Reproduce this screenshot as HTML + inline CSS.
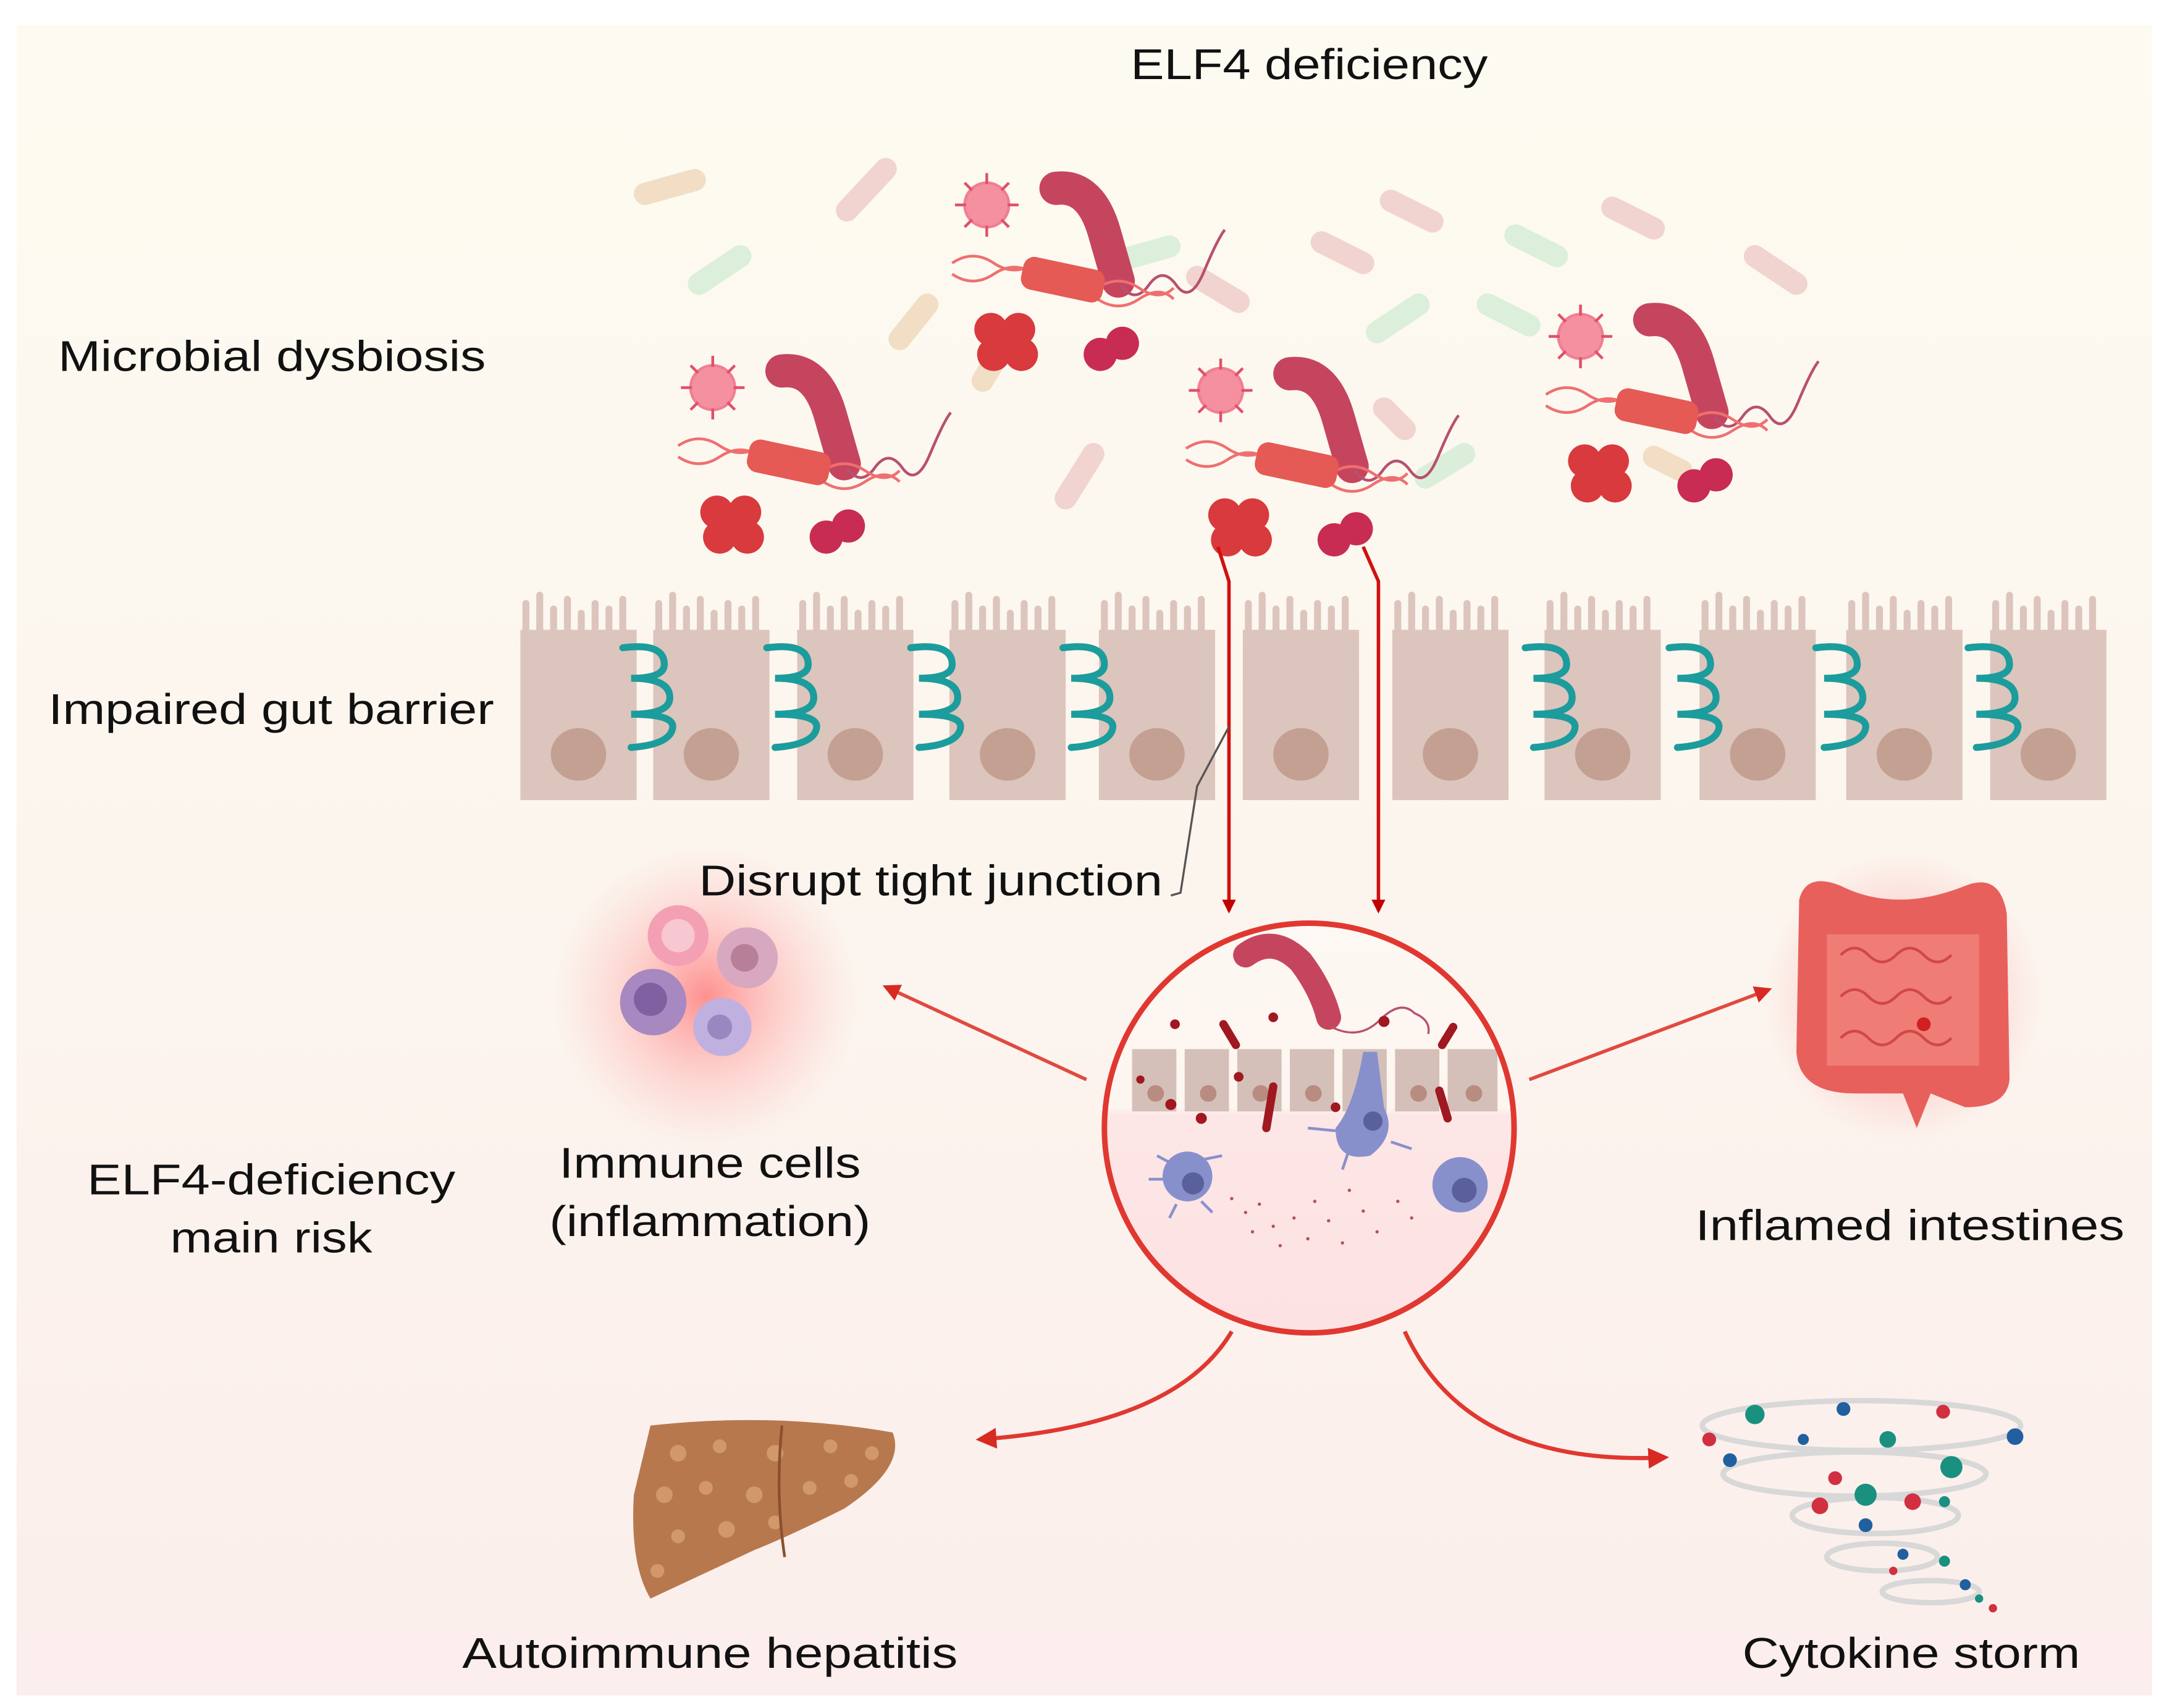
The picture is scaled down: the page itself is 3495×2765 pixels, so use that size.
<!DOCTYPE html>
<html><head><meta charset="utf-8"><style>
html,body{margin:0;padding:0;background:#fff;}
svg{display:block;}
text{font-family:"Liberation Sans",sans-serif;fill:#111;}
</style></head><body>
<svg width="3495" height="2765" viewBox="0 0 1560 1234" xmlns="http://www.w3.org/2000/svg">
<defs>
<linearGradient id="bg" x1="0" y1="0" x2="0" y2="1">
<stop offset="0" stop-color="#fdfbf1"/><stop offset="0.5" stop-color="#fcf5ee"/><stop offset="1" stop-color="#fbeeec"/>
</linearGradient>
<linearGradient id="circ" x1="0" y1="0" x2="0" y2="1">
<stop offset="0" stop-color="#fdf8f3"/><stop offset="0.45" stop-color="#fdf5f0"/><stop offset="0.47" stop-color="#fde6e6"/><stop offset="1" stop-color="#fde2e3"/>
</linearGradient>
<radialGradient id="glow"><stop offset="0" stop-color="#ff7070" stop-opacity="0.75"/><stop offset="0.5" stop-color="#ff9090" stop-opacity="0.35"/><stop offset="1" stop-color="#ffb0b0" stop-opacity="0"/></radialGradient>
<radialGradient id="glow2"><stop offset="0" stop-color="#ff6060" stop-opacity="0.5"/><stop offset="1" stop-color="#ff8080" stop-opacity="0"/></radialGradient>
<marker id="ah" viewBox="0 0 10 10" refX="8" refY="5" markerWidth="5" markerHeight="5" orient="auto"><path d="M0,0 L10,5 L0,10 z" fill="#d62a22"/></marker>
<marker id="ahd" viewBox="0 0 10 10" refX="8" refY="5" markerWidth="4" markerHeight="4" orient="auto"><path d="M0,0 L10,5 L0,10 z" fill="#c00000"/></marker>
<g id="mic">
  <g fill="#f07f92"><circle cx="515" cy="280" r="17"/>
  <g stroke="#e0506a" stroke-width="2"><line x1="515" y1="257" x2="515" y2="303"/><line x1="492" y1="280" x2="538" y2="280"/><line x1="499" y1="264" x2="531" y2="296"/><line x1="531" y1="264" x2="499" y2="296"/></g>
  <circle cx="515" cy="280" r="15" fill="#f4909f"/></g>
  <path d="M565,268 Q590,265 600,300 L610,335" stroke="#c6455e" stroke-width="24" stroke-linecap="round" fill="none"/>
  <path d="M612,338 q10,14 20,0 t20,0 t20,-10 t15,-30" stroke="#b85070" stroke-width="2" fill="none"/>
  <path d="M490,322 q15,-10 30,0 t30,0 M490,330 q15,10 30,0 t30,0 M595,340 q15,-10 30,0 t25,0 M595,348 q15,10 30,0 t25,0" stroke="#ef6f70" stroke-width="2" fill="none"/>
  <rect x="540" y="322" width="60" height="24" rx="8" fill="#e55a55" transform="rotate(12 570 334)"/>
  <g fill="#d83a3e"><circle cx="518" cy="370" r="12"/><circle cx="538" cy="370" r="12"/><circle cx="520" cy="388" r="12"/><circle cx="540" cy="388" r="12"/><circle cx="529" cy="378" r="12"/></g>
  <g fill="#c82c52"><circle cx="597" cy="388" r="12"/><circle cx="613" cy="380" r="12"/></g>
</g>
</defs>
<rect x="0" y="0" width="1560" height="1234" fill="#fff"/>
<rect x="12" y="18" width="1543" height="1207" fill="url(#bg)"/>

<!-- faint pills -->
<g stroke-linecap="round" stroke-width="16" opacity="0.9">
<line x1="466" y1="140" x2="502" y2="130" stroke="#f0dcc0"/>
<line x1="612" y1="152" x2="640" y2="122" stroke="#f0d0cc"/>
<line x1="505" y1="205" x2="535" y2="185" stroke="#d8eed8"/>
<line x1="650" y1="245" x2="670" y2="220" stroke="#f0dcc0"/>
<line x1="710" y1="275" x2="722" y2="255" stroke="#f0dcc0"/>
<line x1="810" y1="188" x2="845" y2="178" stroke="#d8eed8"/>
<line x1="865" y1="200" x2="895" y2="218" stroke="#f0d0cc"/>
<line x1="955" y1="175" x2="985" y2="190" stroke="#f0d0cc"/>
<line x1="1005" y1="145" x2="1035" y2="160" stroke="#f0d0cc"/>
<line x1="995" y1="240" x2="1025" y2="220" stroke="#d8eed8"/>
<line x1="1075" y1="220" x2="1105" y2="235" stroke="#d8eed8"/>
<line x1="1095" y1="170" x2="1125" y2="185" stroke="#d8eed8"/>
<line x1="1165" y1="150" x2="1195" y2="165" stroke="#f0d0cc"/>
<line x1="1268" y1="185" x2="1298" y2="205" stroke="#f0d0cc"/>
<line x1="770" y1="360" x2="790" y2="328" stroke="#f0d0cc"/>
<line x1="1030" y1="345" x2="1058" y2="328" stroke="#d8eed8"/>
<line x1="1195" y1="330" x2="1215" y2="340" stroke="#f0dcc0"/>
<line x1="1000" y1="295" x2="1015" y2="310" stroke="#f0d0cc"/>
</g>
<use href="#mic"/>
<use href="#mic" transform="translate(198,-132)"/>
<use href="#mic" transform="translate(367,2)"/>
<use href="#mic" transform="translate(627,-37)"/>

<!-- cells -->
<g fill="#dcc5bd">
<g id="cell"><rect x="376" y="455" width="84" height="123"/>
<path d="M380,458 v-22 M390,458 v-28 M400,458 v-18 M410,458 v-25 M420,458 v-15 M430,458 v-22 M440,458 v-18 M450,458 v-25" stroke="#dcc5bd" stroke-width="5" stroke-linecap="round"/>
<ellipse cx="418" cy="545" rx="20" ry="19" fill="#c4a092"/></g>
<use href="#cell" transform="translate(96,0)"/>
<use href="#cell" transform="translate(200,0)"/>
<use href="#cell" transform="translate(310,0)"/>
<use href="#cell" transform="translate(418,0)"/>
<use href="#cell" transform="translate(522,0)"/>
<use href="#cell" transform="translate(630,0)"/>
<use href="#cell" transform="translate(740,0)"/>
<use href="#cell" transform="translate(852,0)"/>
<use href="#cell" transform="translate(958,0)"/>
<use href="#cell" transform="translate(1062,0)"/>
</g>
<g fill="none" stroke="#1c9c9c" stroke-width="5" stroke-linecap="round">
<path id="tj" d="M450,468 q30,-4 30,12 q0,10 -24,10 q28,0 28,14 q0,12 -28,12 q32,0 30,10 q-2,12 -30,14"/>
<use href="#tj" transform="translate(104,0)"/>
<use href="#tj" transform="translate(208,0)"/>
<use href="#tj" transform="translate(318,0)"/>
<use href="#tj" transform="translate(652,0)"/>
<use href="#tj" transform="translate(756,0)"/>
<use href="#tj" transform="translate(862,0)"/>
<use href="#tj" transform="translate(972,0)"/>
</g>

<!-- vertical arrows -->
<path d="M880,395 L888,420 V658" stroke="#d01010" stroke-width="2.5" fill="none" marker-end="url(#ahd)"/>
<path d="M985,395 L996,420 V658" stroke="#d01010" stroke-width="2.5" fill="none" marker-end="url(#ahd)"/>
<path d="M888,525 L865,568 L853,645 L846,647" stroke="#555" stroke-width="1.5" fill="none"/>

<!-- circle -->
<circle cx="946" cy="815" r="148" fill="url(#circ)"/>
<g fill="#d4c0b8"><rect x="818" y="758" width="32" height="45"/><rect x="856" y="758" width="32" height="45"/><rect x="894" y="758" width="32" height="45"/><rect x="932" y="758" width="32" height="45"/><rect x="970" y="758" width="32" height="45"/><rect x="1008" y="758" width="32" height="45"/><rect x="1046" y="758" width="36" height="45"/></g>
<g fill="#b88c80"><circle cx="835" cy="790" r="6"/><circle cx="873" cy="790" r="6"/><circle cx="911" cy="790" r="6"/><circle cx="949" cy="790" r="6"/><circle cx="987" cy="790" r="6"/><circle cx="1025" cy="790" r="6"/><circle cx="1065" cy="790" r="6"/></g>
<path d="M900,690 q20,-15 40,5 q15,20 20,40" stroke="#c6455e" stroke-width="18" stroke-linecap="round" fill="none"/>
<path d="M962,742 q20,10 35,-5 t25,-5 q12,5 10,15" stroke="#b85070" stroke-width="1.5" fill="none"/>
<g stroke="#a01820" stroke-width="6" stroke-linecap="round"><line x1="884" y1="740" x2="893" y2="755"/><line x1="1050" y1="742" x2="1042" y2="755"/><line x1="920" y1="785" x2="915" y2="815"/><line x1="1040" y1="788" x2="1046" y2="808"/></g>
<g fill="#a01820"><circle cx="849" cy="740" r="3.5"/><circle cx="920" cy="735" r="3.5"/><circle cx="1000" cy="738" r="4"/><circle cx="846" cy="798" r="4"/><circle cx="868" cy="808" r="4"/><circle cx="895" cy="778" r="3.5"/><circle cx="965" cy="800" r="3.5"/><circle cx="824" cy="780" r="3"/></g>
<g fill="#8890cc"><circle cx="858" cy="850" r="18"/><path d="M985,760 L995,760 L1000,800 Q1010,820 990,835 Q965,840 965,815 Q978,800 985,760z"/><circle cx="1055" cy="856" r="20"/></g>
<g stroke="#8890cc" stroke-width="2"><path d="M830,852 h20 M836,835 l15,8 M868,838 l15,-3 M850,870 l-5,10 M868,868 l8,8 M965,817 l-20,-2 M1005,825 l15,5 M975,830 l-5,15"/></g>
<g fill="#5a609c"><circle cx="862" cy="855" r="8"/><circle cx="1058" cy="860" r="9"/><circle cx="992" cy="810" r="7"/></g>
<g fill="#a03030" opacity="0.8"><circle cx="890" cy="866" r="1.2"/><circle cx="900" cy="876" r="1.2"/><circle cx="910" cy="870" r="1.2"/><circle cx="920" cy="886" r="1.2"/><circle cx="905" cy="890" r="1.2"/><circle cx="935" cy="880" r="1.2"/><circle cx="950" cy="868" r="1.2"/><circle cx="960" cy="882" r="1.2"/><circle cx="975" cy="860" r="1.2"/><circle cx="985" cy="875" r="1.2"/><circle cx="995" cy="890" r="1.2"/><circle cx="1010" cy="868" r="1.2"/><circle cx="1020" cy="880" r="1.2"/><circle cx="945" cy="895" r="1.2"/><circle cx="925" cy="900" r="1.2"/><circle cx="970" cy="898" r="1.2"/></g>
<circle cx="946" cy="815" r="148" fill="none" stroke="#e03830" stroke-width="4"/>

<!-- arrows out -->
<path d="M785,780 L640,713" stroke="#e04a40" stroke-width="2.5" fill="none" marker-end="url(#ah)"/>
<path d="M1105,780 L1278,715" stroke="#e04a40" stroke-width="2.5" fill="none" marker-end="url(#ah)"/>
<path d="M890,962 Q850,1030 708,1040" stroke="#e03830" stroke-width="3" fill="none" marker-end="url(#ah)"/>
<path d="M1015,962 Q1060,1060 1203,1053" stroke="#e03830" stroke-width="3" fill="none" marker-end="url(#ah)"/>

<!-- immune cells -->
<circle cx="510" cy="720" r="110" fill="url(#glow)"/>
<circle cx="490" cy="676" r="22" fill="#f4a0b4"/><circle cx="490" cy="676" r="12" fill="#f8c8d2"/>
<circle cx="540" cy="692" r="22" fill="#d8a8c0"/><circle cx="538" cy="692" r="10" fill="#b88098"/>
<circle cx="472" cy="724" r="24" fill="#a888c0"/><circle cx="470" cy="722" r="12" fill="#8060a0"/>
<circle cx="522" cy="742" r="21" fill="#c0b0e0"/><circle cx="520" cy="742" r="9" fill="#9888c0"/>

<!-- intestine -->
<ellipse cx="1375" cy="720" rx="100" ry="105" fill="url(#glow2)"/>
<path d="M1300,650 Q1305,630 1330,640 Q1370,660 1420,640 Q1445,630 1450,660 L1452,780 Q1450,800 1420,800 L1395,790 L1385,815 L1375,790 L1340,790 Q1300,790 1298,760 Z" fill="#e8605c"/>
<path d="M1320,675 h110 v95 h-110 z" fill="#f07c76"/>
<path d="M1330,690 q10,-10 20,0 t20,0 t20,0 t20,0 M1330,720 q10,-10 20,0 t20,0 t20,0 t20,0 M1330,750 q10,-10 20,0 t20,0 t20,0 t20,0" stroke="#d04848" stroke-width="2" fill="none"/>
<circle cx="1390" cy="740" r="5" fill="#d02020"/>

<!-- liver -->
<path d="M470,1030 Q560,1020 645,1035 Q655,1060 610,1090 Q570,1110 545,1120 L470,1155 Q455,1130 458,1080 Z" fill="#b8784e"/>
<g fill="#d8a070" opacity="0.8"><circle cx="490" cy="1050" r="6"/><circle cx="520" cy="1045" r="5"/><circle cx="560" cy="1050" r="6"/><circle cx="600" cy="1045" r="5"/><circle cx="630" cy="1050" r="5"/><circle cx="480" cy="1080" r="6"/><circle cx="510" cy="1075" r="5"/><circle cx="545" cy="1080" r="6"/><circle cx="585" cy="1075" r="5"/><circle cx="615" cy="1070" r="5"/><circle cx="490" cy="1110" r="5"/><circle cx="525" cy="1105" r="6"/><circle cx="475" cy="1135" r="5"/><circle cx="560" cy="1100" r="5"/></g>
<path d="M565,1030 Q560,1080 567,1125" stroke="#8a5030" stroke-width="2" fill="none"/>

<!-- tornado -->
<g fill="none" stroke="#d8d8d8" stroke-width="4">
<ellipse cx="1345" cy="1030" rx="115" ry="18"/><ellipse cx="1340" cy="1065" rx="95" ry="16"/><ellipse cx="1355" cy="1095" rx="60" ry="13"/><ellipse cx="1360" cy="1125" rx="40" ry="10"/><ellipse cx="1395" cy="1150" rx="35" ry="8"/></g>
<g><circle cx="1268" cy="1022" r="7" fill="#1a9080"/><circle cx="1332" cy="1018" r="5" fill="#2060a0"/><circle cx="1404" cy="1020" r="5" fill="#d03040"/><circle cx="1456" cy="1038" r="6" fill="#2060a0"/><circle cx="1235" cy="1040" r="5" fill="#d03040"/><circle cx="1364" cy="1040" r="6" fill="#1a9080"/><circle cx="1303" cy="1040" r="4" fill="#2060a0"/><circle cx="1410" cy="1060" r="8" fill="#1a9080"/><circle cx="1250" cy="1055" r="5" fill="#2060a0"/><circle cx="1326" cy="1068" r="5" fill="#d03040"/><circle cx="1348" cy="1080" r="8" fill="#1a9080"/><circle cx="1382" cy="1085" r="6" fill="#d03040"/><circle cx="1315" cy="1088" r="6" fill="#d03040"/><circle cx="1348" cy="1102" r="5" fill="#2060a0"/><circle cx="1405" cy="1085" r="4" fill="#1a9080"/><circle cx="1375" cy="1123" r="4" fill="#2060a0"/><circle cx="1405" cy="1128" r="4" fill="#1a9080"/><circle cx="1368" cy="1135" r="3" fill="#d03040"/><circle cx="1420" cy="1145" r="4" fill="#2060a0"/><circle cx="1430" cy="1155" r="3" fill="#1a9080"/><circle cx="1440" cy="1162" r="3" fill="#d03040"/></g>

<!-- text -->
<g font-size="31">
<text x="946" y="57" text-anchor="middle" textLength="258" lengthAdjust="spacingAndGlyphs">ELF4 deficiency</text>
<text x="42" y="268" textLength="309" lengthAdjust="spacingAndGlyphs">Microbial dysbiosis</text>
<text x="35" y="523" textLength="322" lengthAdjust="spacingAndGlyphs">Impaired gut barrier</text>
<text x="505" y="647" textLength="335" lengthAdjust="spacingAndGlyphs">Disrupt tight junction</text>
<text x="196" y="863" text-anchor="middle" textLength="266" lengthAdjust="spacingAndGlyphs">ELF4-deficiency</text>
<text x="196" y="905" text-anchor="middle" textLength="146" lengthAdjust="spacingAndGlyphs">main risk</text>
<text x="513" y="851" text-anchor="middle" textLength="218" lengthAdjust="spacingAndGlyphs">Immune cells</text>
<text x="513" y="893" text-anchor="middle" textLength="232" lengthAdjust="spacingAndGlyphs">(inflammation)</text>
<text x="1380" y="896" text-anchor="middle" textLength="310" lengthAdjust="spacingAndGlyphs">Inflamed intestines</text>
<text x="513" y="1205" text-anchor="middle" textLength="358" lengthAdjust="spacingAndGlyphs">Autoimmune hepatitis</text>
<text x="1381" y="1205" text-anchor="middle" textLength="244" lengthAdjust="spacingAndGlyphs">Cytokine storm</text>
</g>
</svg>
</body></html>
